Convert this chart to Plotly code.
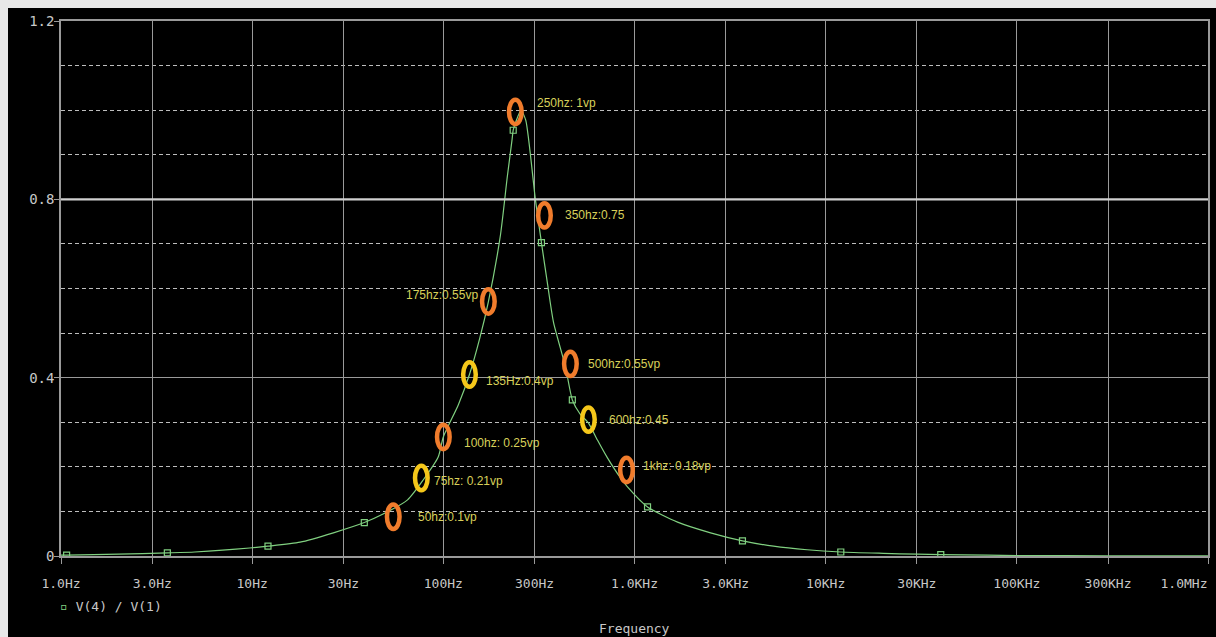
import plotly.graph_objects as go
import numpy as np

# Transfer function |V(4)/V(1)| along the swept frequency axis
freq_hz = [1, 1.07, 2, 3.6, 5, 7, 9.7, 12.1, 17.8, 26.6, 38.6, 48.4, 65, 78.6,
           94, 100, 120, 137, 155, 172, 199, 216, 229, 232, 240, 255, 270, 303,
           326, 350, 377, 435, 473, 520, 575, 640, 722, 845, 919, 1170, 1680,
           2500, 3670, 5340, 8000, 12000, 20000, 30000, 40000, 70000, 100000,
           300000, 1000000]
gain = [0.002, 0.002, 0.004, 0.007, 0.009, 0.013, 0.018, 0.022, 0.031, 0.052,
        0.075, 0.094, 0.126, 0.171, 0.222, 0.267, 0.34, 0.407, 0.488, 0.57,
        0.72, 0.85, 0.935, 0.955, 0.975, 1.0, 0.977, 0.8, 0.703, 0.613,
        0.524, 0.425, 0.35, 0.318, 0.298, 0.26, 0.22, 0.175, 0.155, 0.11,
        0.076, 0.052, 0.034, 0.022, 0.014, 0.009, 0.006, 0.004, 0.003, 0.002,
        0.001, 0.0005, 0.0002]

# Trace symbols placed along the curve
sym_freq = [1.07, 3.6, 12.1, 38.6, 232, 326, 473, 1170, 3670, 12000, 40000]
sym_gain = [0.002, 0.007, 0.022, 0.075, 0.955, 0.703, 0.35, 0.11, 0.034, 0.009, 0.003]

# Hand-marked points with their notes
note_freq = [54.7, 76.7, 100, 137, 172, 238, 338, 462, 574, 908]
note_gain = [0.088, 0.175, 0.267, 0.407, 0.571, 0.996, 0.764, 0.431, 0.306, 0.193]
note_text = ["50hz:0.1vp", "75hz: 0.21vp", "100hz: 0.25vp", "135Hz:0.4vp",
             "175hz:0.55vp", "250hz: 1vp", "350hz:0.75", "500hz:0.55vp",
             "600hz:0.45", "1khz: 0.18vp"]
note_ring = ["orange", "yellow", "orange", "yellow", "orange", "orange",
             "orange", "orange", "yellow", "orange"]
note_dx = [23, 11, 19, 15, -8, 20, 19, 16, 19, 15]
note_dy = [0, -3, -6, -6, 6, 9, 0, 0, 0, 4]

x_tick_vals = [1, 3, 10, 30, 100, 300, 1e3, 3e3, 1e4, 3e4, 1e5, 3e5, 1e6]
x_tick_text = ["1.0Hz", "3.0Hz", "10Hz", "30Hz", "100Hz", "300Hz", "1.0KHz",
               "3.0KHz", "10KHz", "30KHz", "100KHz", "300KHz", "1.0MHz"]
y_tick_vals = [0, 0.4, 0.8, 1.2]
y_tick_text = ["0", "0.4", "0.8", "1.2"]
cursor_level = [0.8]

TRACE = "#80d080"
AXIS = "#9a9a9a"
TEXT = "#c8c8c8"
NOTE = "#d8d05a"
RING = {"orange": "#f07c2c", "yellow": "#f5c71a"}
MONO = "DejaVu Sans Mono"

W, H = 1216, 637
ML, MR, MT, MB = 61, 8, 21, 81
PW, PH = W - ML - MR, H - MT - MB
X_DECADES = 6.0
Y_SPAN = 1.2
PX_PER_DEC = PW / X_DECADES
PX_PER_UNIT = PH / Y_SPAN

fig = go.Figure()
fig.add_trace(go.Scatter(x=freq_hz, y=gain, mode="lines",
                         line=dict(color=TRACE, width=1.2, shape="spline", smoothing=0.6),
                         showlegend=False, hoverinfo="skip"))
fig.add_trace(go.Scatter(x=sym_freq, y=sym_gain, mode="markers", xaxis="x2",
                         marker=dict(symbol="square-open", size=6,
                                     color=TRACE, line=dict(width=1.2)),
                         showlegend=False, hoverinfo="skip"))

shapes = []
# light outer frame with the black panel on top of it
shapes.append(dict(type="rect", xref="paper", yref="paper", layer="below",
                   x0=(8 - ML) / PW, x1=(W - ML + 5) / PW,
                   y0=-(MB + 5) / PH, y1=1 + (MT - 8) / PH,
                   fillcolor="black", line=dict(width=0)))
for lvl in cursor_level:
    shapes.append(dict(type="line", xref="paper", yref="y", x0=0, x1=1,
                       y0=lvl, y1=lvl, line=dict(color="#cfcfcf", width=2.2)))

# elliptical rings around the marked points (half-axes in screen pixels)
RX, RY = 6.3, 12.2
for f, g, c in zip(note_freq, note_gain, note_ring):
    k = 10 ** (RX / PX_PER_DEC)
    dy = RY / PX_PER_UNIT
    shapes.append(dict(type="circle", xref="x", yref="y",
                       x0=f / k, x1=f * k, y0=g - dy, y1=g + dy,
                       line=dict(color=RING[c], width=4.5)))

annotations = []
for f, g, t, dx, dy in zip(note_freq, note_gain, note_text, note_dx, note_dy):
    annotations.append(dict(x=np.log10(f), y=g, xref="x", yref="y", text=t,
                            showarrow=False, xanchor="left" if dx > 0 else "right",
                            yanchor="middle", xshift=dx, yshift=dy,
                            font=dict(family="Liberation Sans", size=12, color=NOTE)))
annotations.append(dict(xref="paper", yref="paper", x=(58 - ML) / PW,
                        y=(MT + PH - 606) / PH,
                        xanchor="left", yanchor="middle", showarrow=False,
                        text="<span style='color:%s'>▫</span> V(4) / V(1)" % TRACE,
                        font=dict(family=MONO, size=13, color=TEXT)))
annotations.append(dict(xref="paper", yref="paper", x=0.5,
                        y=(MT + PH - 628) / PH, xanchor="center", yanchor="middle",
                        showarrow=False, text="Frequency",
                        font=dict(family=MONO, size=13, color=TEXT)))

tick_font = dict(family=MONO, size=13, color=TEXT)
fig.update_layout(
    width=W, height=H,
    margin=dict(l=ML, r=MR, t=MT, b=MB),
    paper_bgcolor="#e8e8e8", plot_bgcolor="black",
    shapes=shapes, annotations=annotations,
    showlegend=False,
    xaxis=dict(type="log", range=[0, X_DECADES], tickmode="array",
               tickvals=x_tick_vals, ticktext=x_tick_text[:-1] + [""],
               showgrid=True, gridcolor=AXIS, gridwidth=1,
               showline=True, linecolor=AXIS, linewidth=1.5, mirror=True,
               ticks="outside", ticklen=6, tickcolor=AXIS,
               ticklabelstandoff=9, automargin=False,
               tickfont=tick_font, zeroline=False),
    # the last frequency label sits flush with the right edge of the frame
    xaxis2=dict(type="log", range=[0, X_DECADES], overlaying="x", anchor="y",
                side="bottom", tickmode="array",
                tickvals=x_tick_vals[-1:], ticktext=x_tick_text[-1:],
                showgrid=False, showline=False, ticks="",
                ticklabelstandoff=18, ticklabelshift=-24, automargin=False,
                ticklabeloverflow="allow", tickfont=tick_font, zeroline=False),
    yaxis=dict(range=[0, Y_SPAN], tickmode="array",
               tickvals=y_tick_vals, ticktext=y_tick_text,
               showgrid=True, gridcolor=AXIS, gridwidth=1,
               showline=True, linecolor=AXIS, linewidth=1.5, mirror=True,
               ticks="outside", ticklen=5, tickcolor=AXIS,
               ticklabelstandoff=-3, automargin=False,
               tickfont=dict(family=MONO, size=14, color=TEXT),
               zeroline=False,
               minor=dict(tick0=0, dtick=0.1, showgrid=True,
                          gridcolor="#bdbdbd", griddash="4px,3px",
                          gridwidth=1.2, ticks="")),
)

fig.write_html("out.html")
